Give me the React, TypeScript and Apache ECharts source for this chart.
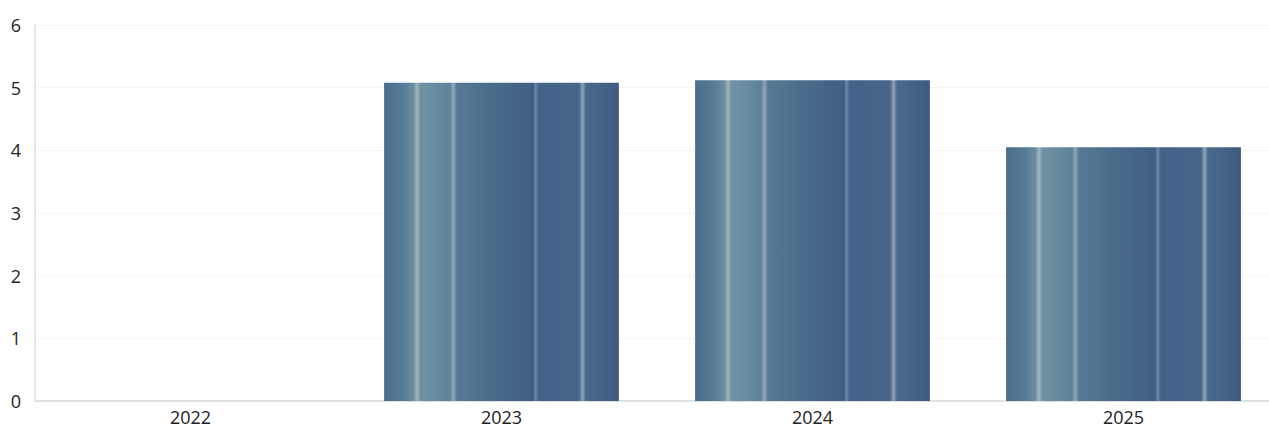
import React, { useEffect, useRef } from "react";
import * as echarts from "echarts";

const categories = ["2022", "2023", "2024", "2025"];
const values = [0, 5.08, 5.12, 4.05];
const yTicks = [0, 1, 2, 3, 4, 5, 6];

const barGradient = new echarts.graphic.LinearGradient(0, 0, 1, 0, [
  { offset: 0, color: "#4a6e8b" },
  { offset: 0.08, color: "#567b94" },
  { offset: 0.125, color: "#6a8da0" },
  { offset: 0.14, color: "#a3b6bd" },
  { offset: 0.155, color: "#7093a4" },
  { offset: 0.28, color: "#5e8299" },
  { offset: 0.295, color: "#8ea8b6" },
  { offset: 0.31, color: "#567a94" },
  { offset: 0.45, color: "#4b6d8c" },
  { offset: 0.6, color: "#426185" },
  { offset: 0.635, color: "#405e83" },
  { offset: 0.645, color: "#6a86a0" },
  { offset: 0.66, color: "#436288" },
  { offset: 0.83, color: "#476689" },
  { offset: 0.845, color: "#8ea3b4" },
  { offset: 0.86, color: "#4a6a8b" },
  { offset: 1, color: "#3e5a80" },
]);

export default function App() {
  const ref = useRef<HTMLDivElement>(null);
  useEffect(() => {
    if (!ref.current) return;
    const chart = echarts.init(ref.current, undefined, { renderer: "svg" });
    chart.setOption({
      animation: false,
      backgroundColor: "#ffffff",
      grid: { left: 35, right: 0, top: 25, bottom: 29, containLabel: false },
      xAxis: {
        type: "category",
        data: categories,
        axisLine: { show: true, lineStyle: { color: "#d9d9d9", width: 1.5 } },
        axisTick: { show: false },
        axisLabel: {
          color: "#222222",
          fontSize: 18,
          fontFamily: "Open Sans",
          margin: 7,
        },
      },
      yAxis: {
        type: "value",
        min: yTicks[0],
        max: yTicks[yTicks.length - 1],
        interval: 1,
        axisLine: { show: true, lineStyle: { color: "#dcdcdc", width: 1.5 } },
        axisTick: { show: false },
        splitLine: { show: true, lineStyle: { color: "#f6f6f6" } },
        axisLabel: {
          color: "#222222",
          fontSize: 18,
          fontFamily: "Open Sans",
          margin: 14,
        },
      },
      series: [
        {
          type: "bar",
          data: values,
          barCategoryGap: "24.5%",
          itemStyle: { color: barGradient },
        },
      ],
    });
    return () => chart.dispose();
  }, []);
  return (
    <div
      style={{
        position: "fixed",
        left: 0,
        top: 0,
        width: 1269,
        height: 430,
        overflow: "hidden",
        background: "#ffffff",
      }}
    >
      <div ref={ref} style={{ width: 1279, height: 430 }} />
    </div>
  );
}
